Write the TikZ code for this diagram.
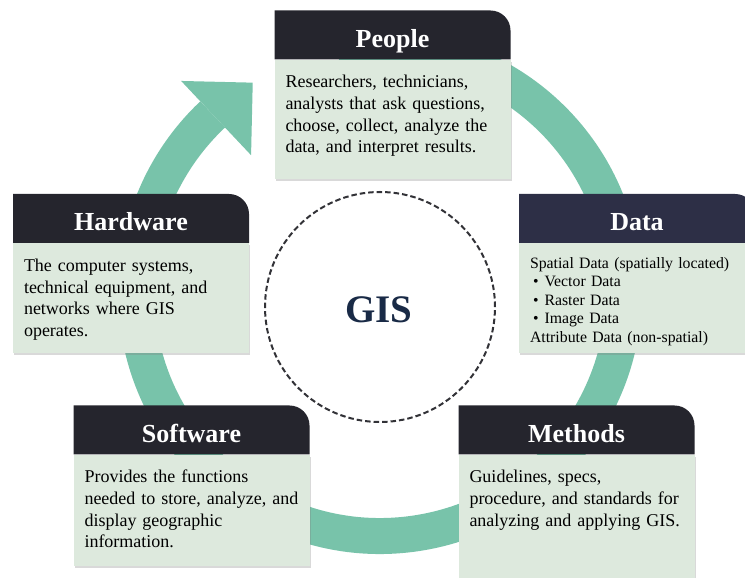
\documentclass[tikz,border=0pt]{standalone}
\usepackage{fontspec}
\setmainfont{Liberation Serif}
\usetikzlibrary{positioning,shadows}

\definecolor{ringteal}{RGB}{120,195,170}
\definecolor{bodygreen}{RGB}{221,233,221}
\definecolor{headgray}{RGB}{37,37,45}
\definecolor{headblue}{RGB}{45,47,70}
\definecolor{gisnavy}{RGB}{25,42,70}
\definecolor{dashgray}{RGB}{50,50,55}

\begin{document}
\begin{tikzpicture}[x=1pt,y=1pt,
    head/.style={minimum width=236pt, minimum height=49pt, inner sep=0pt, text=white,
        font=\bfseries\fontsize{26}{30}\selectfont, text height=30pt, text depth=5pt,
        path picture={\fill[#1] (path picture bounding box.south west)
            -- (path picture bounding box.north west)
            -- ([xshift=-20pt]path picture bounding box.north east)
            arc[start angle=90, end angle=0, radius=20pt]
            -- (path picture bounding box.south east) -- cycle;}},
    head/.default=headgray,
    body/.style={fill=bodygreen, text width=214pt, inner xsep=11pt, inner ysep=0pt,
        align=left, font=\fontsize{18}{21.7}\selectfont, text height=28pt,
        drop shadow={opacity=0.3, shadow xshift=1pt, shadow yshift=-2pt}},
    ringline/.style={draw=ringteal, line width=36pt}]
    \useasboundingbox (0,0) rectangle (745,578);

    % cycle ring with arrow head
    \coordinate (hub) at (380,286);
    \draw[ringline] ([shift={(100:244pt)}]hub) arc[start angle=100, end angle=-226.7, radius=244pt];
    \fill[ringteal] ([shift={(133.3:188pt)}]hub) -- ([shift={(121.3:245pt)}]hub)
        -- ([shift={(133.3:290pt)}]hub) -- cycle;

    % centre
    \node[circle, minimum size=230pt, draw=dashgray, line width=2pt, dash pattern=on 5.5pt off 3pt] (core) at (380,271) {};
    \node[font=\bfseries\fontsize{39}{44}\selectfont, text=gisnavy] (gis) at ([shift={(-1pt,-3pt)}]core.center) {GIS};

    % boxes
    \node[head] (peopleHead) at (392.5,543) {People};
    \node[body, below=0pt of peopleHead, text depth=91pt] (peopleBody)
        {Researchers, technicians,\\ analysts that ask questions,\\ choose, collect, analyze the\\ data, and interpret results.};

    \node[head] (hardwareHead) at (131,359.5) {Hardware};
    \node[body, below=0pt of hardwareHead, text depth=82pt] (hardwareBody)
        {The computer systems,\\ technical equipment, and\\ networks where GIS\\ operates.};

    \node[head=headblue] (dataHead) at (637,359.5) {Data};
    \node[body, below=0pt of dataHead, font=\fontsize{15.8}{18.5}\selectfont, text height=25pt, text depth=85pt] (dataBody)
        {Spatial Data (spatially located)\\
         \hspace*{3pt}\textbullet\hspace{6pt}Vector Data\\
         \hspace*{3pt}\textbullet\hspace{6pt}Raster Data\\
         \hspace*{3pt}\textbullet\hspace{6pt}Image Data\\
         Attribute Data (non-spatial)};

    \node[head] (softwareHead) at (191.5,148) {Software};
    \node[body, below=0pt of softwareHead, text depth=83pt] (softwareBody)
        {Provides the functions\\ needed to store, analyze, and\\ display geographic\\ information.};

    \node[head] (methodsHead) at (576.5,148) {Methods};
    \node[body, below=0pt of methodsHead, text depth=112pt] (methodsBody)
        {Guidelines, specs,\\ procedure, and standards for\\ analyzing and applying GIS.};
\end{tikzpicture}
\end{document}
